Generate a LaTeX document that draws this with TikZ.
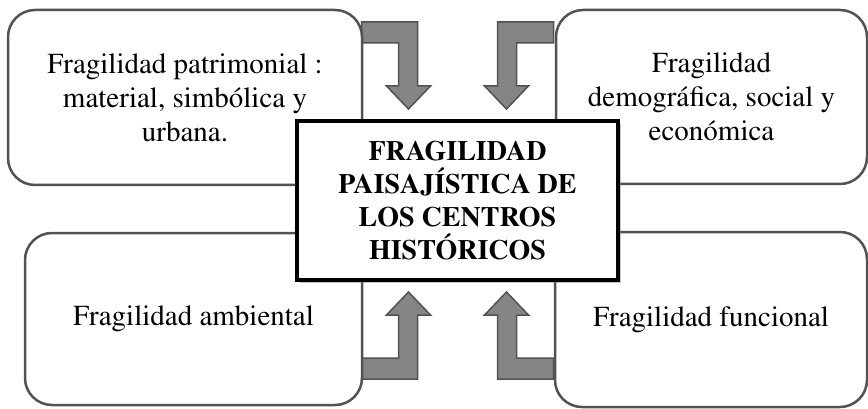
\documentclass[tikz,border=0pt]{standalone}
\usepackage[T1]{fontenc}
\usepackage{mathptmx}
\usetikzlibrary{shadows}

\tikzset{
    frag box/.style={draw=black!68, line width=2.5pt, rounded corners=27pt, fill=white,
        align=center, inner sep=0pt, font=\fontsize{29}{34}\selectfont},
    hub box/.style={draw=black, line width=3.5pt, fill=white, align=center,
        font=\fontsize{28}{33}\selectfont\bfseries,
        drop shadow={shadow xshift=3pt, shadow yshift=-3pt, opacity=.45}},
    bent arrow/.style={draw=black!68, fill=black!48, line width=1.5pt, line join=miter}
}

\begin{document}
\begin{tikzpicture}[x=1pt,y=-1pt]
    \useasboundingbox (0,0) rectangle (868,409);
    \coordinate (mid) at (457.5,200.5);

    % bent arrows, mirrored round the centre
    \foreach \sx/\sy in {1/1,-1/1,1/-1,-1/-1}
        \draw[bent arrow, shift={(mid)}, xscale=\sx, yscale=\sy]
            (-96,-178.5) -- (-40,-178.5) -- (-40,-114.5) -- (-27,-114.5) -- (-49,-91.5)
            -- (-71,-114.5) -- (-59,-114.5) -- (-59,-157.5) -- (-96,-157.5) -- cycle;

    \node[frag box, minimum width=354pt, minimum height=175pt] (patrim) at (185,97.5)
        {Fragilidad patrimonial :\\ material, simbólica y\\ urbana.};
    \node[frag box, minimum width=311pt, minimum height=174pt] (demog) at (711.5,97)
        {Fragilidad\\ demográfica, social y\\ económica};
    \node[frag box, minimum width=337pt, minimum height=172pt] (ambient) at (193.5,319)
        {Fragilidad ambiental};
    \node[frag box, minimum width=312pt, minimum height=175pt] (funcion) at (711,319.5)
        {Fragilidad funcional};

    \node[hub box, minimum width=321pt, minimum height=159pt] (hub) at (mid)
        {FRAGILIDAD\\ PAISAJÍSTICA DE\\ LOS CENTROS\\ HISTÓRICOS};
\end{tikzpicture}
\end{document}
